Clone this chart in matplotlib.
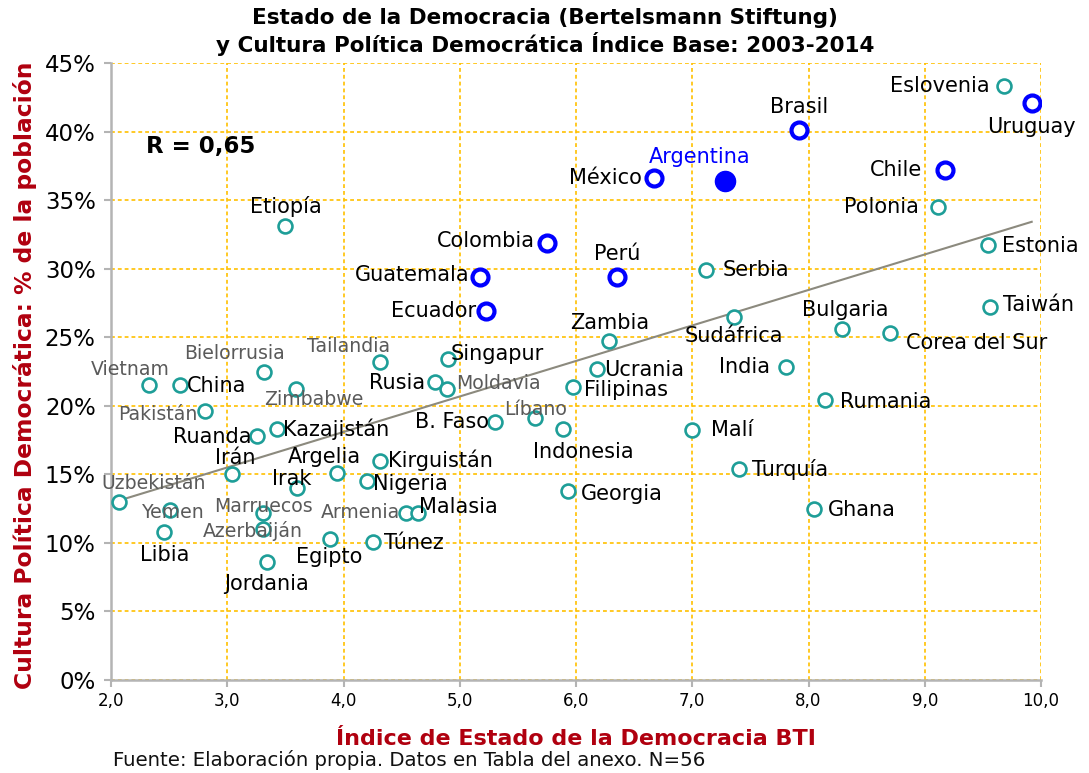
import numpy as np
import matplotlib
matplotlib.use("Agg")
import matplotlib.pyplot as plt

plt.rcParams['font.family'] = ['DejaVu Sans']

# ---------------- data ----------------
countries = ["Uzbekistán", "Vietnam", "China", "Pakistán", "Bielorrusia", "Yemen", "Libia",
             "Irán", "Ruanda", "Kazajistán", "Zimbabwe", "Marruecos", "Azerbaiján", "Jordania",
             "Irak", "Argelia", "Egipto", "Kirguistán", "Nigeria", "Tailandia", "Armenia",
             "Malasia", "Túnez", "Rusia", "Singapur", "Moldavia", "B. Faso", "Líbano",
             "Indonesia", "Georgia", "Filipinas", "Ucrania", "Zambia", "Malí", "Serbia",
             "Sudáfrica", "India", "Turquía", "Ghana", "Rumania", "Bulgaria", "Corea del Sur",
             "Polonia", "Estonia", "Taiwán", "Eslovenia", "Etiopía",
             "Uruguay", "Chile", "Brasil", "Argentina", "México", "Perú", "Colombia",
             "Guatemala", "Ecuador"]
bti = [2.07, 2.33, 2.59, 2.81, 3.32, 2.51, 2.46,
       3.04, 3.26, 3.43, 3.59, 3.31, 3.31, 3.34,
       3.60, 3.94, 3.88, 4.31, 4.20, 4.31, 4.54,
       4.64, 4.25, 4.79, 4.90, 4.89, 5.30, 5.65,
       5.89, 5.93, 5.97, 6.18, 6.28, 7.00, 7.12,
       7.36, 7.81, 7.40, 8.05, 8.14, 8.29, 8.70,
       9.11, 9.54, 9.56, 9.68, 3.50,
       9.92, 9.17, 7.92, 7.28, 6.67, 6.35, 5.75,
       5.17, 5.23]
cultura = [13.0, 21.5, 21.5, 19.6, 22.5, 12.4, 10.8,
           15.0, 17.8, 18.3, 21.2, 12.2, 11.0, 8.6,
           14.0, 15.1, 10.3, 16.0, 14.5, 23.2, 12.2,
           12.2, 10.1, 21.7, 23.4, 21.2, 18.8, 19.1,
           18.3, 13.8, 21.4, 22.7, 24.7, 18.2, 29.9,
           26.5, 22.8, 15.4, 12.5, 20.4, 25.6, 25.3,
           34.5, 31.7, 27.2, 43.3, 33.1,
           42.1, 37.2, 40.1, 36.4, 36.6, 29.4, 31.9,
           29.4, 26.9]
latam = ["Uruguay", "Chile", "Brasil", "México", "Perú", "Colombia", "Guatemala", "Ecuador"]
highlight = ["Argentina"]
grey_labels = ["Vietnam", "Bielorrusia", "Tailandia", "Pakistán", "Zimbabwe", "Moldavia",
               "Uzbekistán", "Yemen", "Marruecos", "Azerbaiján", "Armenia", "Líbano"]
x_ticks = [2, 3, 4, 5, 6, 7, 8, 9, 10]
x_ticklabels = ["2,0", "3,0", "4,0", "5,0", "6,0", "7,0", "8,0", "9,0", "10,0"]
y_ticks = [0, 5, 10, 15, 20, 25, 30, 35, 40, 45]
y_ticklabels = ["0%", "5%", "10%", "15%", "20%", "25%", "30%", "35%", "40%", "45%"]
r_text = "R = 0,65"

# label placement (pixel offsets from the point, ha)
label_pos = {
    "Uzbekistán": (34, 18, "center"), "Vietnam": (-19, 16, "center"), "China": (7, -1, "left"),
    "Pakistán": (-8, -3, "right"), "Bielorrusia": (-30, 18, "center"), "Yemen": (3, -3, "center"),
    "Libia": (0, -23, "center"), "Irán": (3, 16, "center"), "Ruanda": (-6, -1, "right"),
    "Kazajistán": (6, 0, "left"), "Zimbabwe": (18, -10, "center"), "Marruecos": (0, 6, "center"),
    "Azerbaiján": (-10, -2, "center"), "Jordania": (0, -22, "center"), "Irak": (-5, 9, "center"),
    "Argelia": (-12, 16, "center"), "Egipto": (0, -18, "center"), "Kirguistán": (8, 0, "left"),
    "Nigeria": (6, -3, "left"), "Tailandia": (-31, 15, "center"), "Armenia": (-6, 0, "right"),
    "Malasia": (1, 6, "left"), "Túnez": (11, -1, "left"), "Rusia": (-10, -1, "right"),
    "Singapur": (3, 5, "left"), "Moldavia": (9, 6, "left"), "B. Faso": (-6, 0, "right"),
    "Líbano": (0, 9, "center"), "Indonesia": (20, -23, "center"), "Georgia": (13, -3, "left"),
    "Filipinas": (11, -3, "left"), "Ucrania": (7, -1, "left"), "Zambia": (1, 18, "center"),
    "Malí": (19, 0, "left"), "Serbia": (16, 0, "left"), "Sudáfrica": (0, -19, "center"),
    "India": (-16, 0, "right"), "Turquía": (13, -1, "left"), "Ghana": (14, -1, "left"),
    "Rumania": (15, -2, "left"), "Bulgaria": (3, 19, "center"), "Corea del Sur": (16, -10, "left"),
    "Polonia": (-19, 0, "right"), "Estonia": (14, -1, "left"), "Taiwán": (13, 2, "left"),
    "Eslovenia": (-14, 0, "right"), "Etiopía": (0, 20, "center"),
    "Uruguay": (0, -24, "center"), "Chile": (-22, 0, "right"), "Brasil": (0, 23, "center"),
    "Argentina": (-25, 24, "center"), "México": (-12, 0, "right"), "Perú": (0, 23, "center"),
    "Colombia": (-12, 2, "right"), "Guatemala": (-10, 2, "right"), "Ecuador": (-10, 0, "right"),
}

# ---------------- style ----------------
TEAL = "#1E9E98"
BLUE = "#0000FF"
DARKRED = "#B0000F"
GRID = "#FFC000"
AXISGREY = "#B4B4B4"

W, H = 1089, 773
fig = plt.figure(figsize=(W / 100, H / 100), dpi=100)
ax = fig.add_axes([111 / W, 1 - 680 / H, (1041 - 111) / W, (680 - 63) / H])

ax.set_xlim(2, 10)
ax.set_ylim(0, 45)
ax.set_xticks(x_ticks)
ax.set_xticklabels(x_ticklabels, fontsize=12)
ax.set_yticks(y_ticks)
ax.set_yticklabels(y_ticklabels, fontsize=16.5)
ax.grid(True, color=GRID, linestyle=(0, (2.3, 1.8)), linewidth=1.2)
ax.set_axisbelow(True)
for s in ["top", "right"]:
    ax.spines[s].set_visible(False)
for s in ["left", "bottom"]:
    ax.spines[s].set_color(AXISGREY)
    ax.spines[s].set_linewidth(1.8)
ax.tick_params(axis="both", direction="out", length=5, width=1.5, color=AXISGREY)
ax.tick_params(axis="y", pad=6)
ax.tick_params(axis="x", pad=4)

bti_a = np.array(bti)
cul_a = np.array(cultura)

# trend line
coef = np.polyfit(bti_a, cul_a, 1)
xs = np.array([bti_a.min(), bti_a.max()])
ax.plot(xs, np.polyval(coef, xs), color="#8C8A7E", linewidth=1.5, zorder=2)

for name, x, y in zip(countries, bti, cultura):
    if name in highlight:
        ax.plot(x, y, "o", ms=14.5, color=BLUE, zorder=4)
    elif name in latam:
        ax.plot(x, y, "o", ms=11.5, mfc="white", mec=BLUE, mew=3.0, zorder=4)
    else:
        ax.plot(x, y, "o", ms=10, mfc="white", mec=TEAL, mew=1.9, zorder=3)

for name, x, y in zip(countries, bti, cultura):
    dx, dy, ha = label_pos[name]
    if name in highlight:
        color, fs = BLUE, 15
    elif name in grey_labels:
        color, fs = "#5A5A5A", 13.6
    else:
        color, fs = "#000000", 15
    ax.annotate(name, (x, y), xytext=(dx, dy), textcoords="offset pixels",
                ha=ha, va="center", fontsize=fs, color=color, zorder=5)

fig.text(146 / W, 1 - 147 / H, r_text, fontsize=16.5, fontweight="bold",
         ha="left", va="center", color="#000000")

# titles
fig.text(545 / W, 1 - 18 / H, "Estado de la Democracia (Bertelsmann Stiftung)",
         fontsize=15.5, fontweight="bold", ha="center", va="center")
fig.text(545 / W, 1 - 44 / H, "y Cultura Política Democrática Índice Base: 2003-2014",
         fontsize=15.5, fontweight="bold", ha="center", va="center")
fig.text(25 / W, 1 - 375 / H, "Cultura Política Democrática: % de la población",
         fontsize=16.8, fontweight="bold", color=DARKRED, rotation=90,
         ha="center", va="center")
fig.text(576 / W, 1 - 739 / H, "Índice de Estado de la Democracia BTI",
         fontsize=16, fontweight="bold", color=DARKRED, ha="center", va="center")
fig.text(113 / W, 1 - 760 / H, "Fuente: Elaboración propia. Datos en Tabla del anexo. N=56",
         fontsize=14.2, ha="left", va="center", color="#111111")

fig.savefig("out.png", dpi=100)
